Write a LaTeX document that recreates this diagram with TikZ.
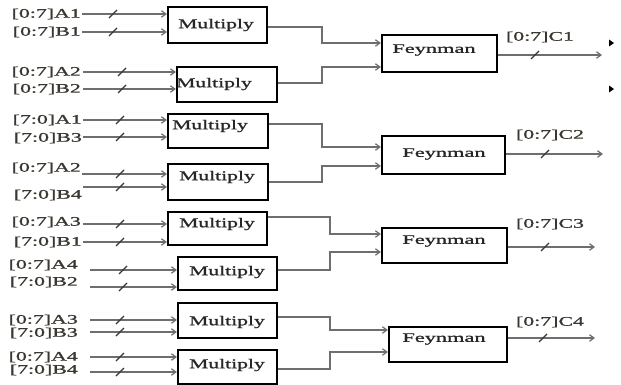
\documentclass[tikz,border=0pt]{standalone}
\usepackage{fontspec}
\setmainfont{Liberation Serif}
\newfontfamily\busfont[FakeStretch=1.68,FakeBold=1.2]{Liberation Serif}
\newfontfamily\blockfont[FakeStretch=1.6,FakeBold=1.2]{Liberation Serif}
\newfontfamily\feyfont[FakeStretch=1.72,FakeBold=1.2]{Liberation Serif}
\usetikzlibrary{arrows.meta}
\definecolor{wiregray}{HTML}{6E6E6E}
\definecolor{labelink}{HTML}{3A3630}

% short diagonal stroke marking a multi-bit bus
\newcommand\busslash[2]{\draw[slashline] (#1-4,#2+4) -- (#1+4,#2-4);}
% input wire: name, start x, y, target block, slash x
\newcommand\inwire[5]{%
  \coordinate (#1) at (#2,#3);
  \draw[wire] (#1) -- (#1 -| #4.west);
  \busslash{#5}{#3}}

\begin{document}
\begin{tikzpicture}[x=1pt,y=-1pt,
  mbox/.style={draw=black,line width=2.2pt,fill=white,rectangle,inner sep=0pt},
  wire/.style={draw=wiregray,line width=1.2pt,-{Straight Barb[length=4.5pt,width=6.5pt]}},
  slashline/.style={draw=labelink,line width=1.2pt},
  bus/.style={font=\busfont\fontsize{13}{15}\selectfont,text=labelink,inner sep=0pt,anchor=east},
  outbus/.style={font=\busfont\fontsize{13}{15}\selectfont,text=labelink,inner sep=0pt},
  blocktext/.style={font=\blockfont\fontsize{13.5}{15}\selectfont,text=black!85,inner sep=0pt},
  feytext/.style={font=\feyfont\fontsize{13}{15}\selectfont,text=black!85,inner sep=0pt},
]
\useasboundingbox[fill=white] (0,0) rectangle (621,385);

% ---------- multiplier blocks ----------
\node[mbox,minimum width=99pt,minimum height=36pt] (m1) at (217.5,25) {};
\node[mbox,minimum width=100pt,minimum height=35pt] (m2) at (227,84.5) {};
\node[mbox,minimum width=100pt,minimum height=34pt] (m3) at (218,131) {};
\node[mbox,minimum width=100pt,minimum height=36pt] (m4) at (218,182) {};
\node[mbox,minimum width=99pt,minimum height=33pt] (m5) at (217.5,228.5) {};
\node[mbox,minimum width=99pt,minimum height=33pt] (m6) at (227.5,273.5) {};
\node[mbox,minimum width=99pt,minimum height=35pt] (m7) at (227.5,320.5) {};
\node[mbox,minimum width=99pt,minimum height=34pt] (m8) at (227.5,367) {};

\node[blocktext] (t1) at (216,25) {Multiply};
\node[blocktext] (t2) at (214,84) {Multiply};
\node[blocktext] (t3) at (210,126) {Multiply};
\node[blocktext] (t4) at (217,177) {Multiply};
\node[blocktext] (t5) at (217,224) {Multiply};
\node[blocktext] (t6) at (227,272) {Multiply};
\node[blocktext] (t7) at (227,322) {Multiply};
\node[blocktext] (t8) at (227,365) {Multiply};

% ---------- Feynman blocks ----------
\node[mbox,minimum width=115pt,minimum height=37pt] (f1) at (439.5,53.5) {};
\node[mbox,minimum width=123pt,minimum height=38pt] (f2) at (443.5,155) {};
\node[mbox,minimum width=125pt,minimum height=35pt] (f3) at (444.5,245.5) {};
\node[mbox,minimum width=118pt,minimum height=35pt] (f4) at (448,344.5) {};

\node[feytext] (g1) at (434,50) {Feynman};
\node[feytext] (g2) at (444,154) {Feynman};
\node[feytext] (g3) at (444,241) {Feynman};
\node[feytext] (g4) at (444,339) {Feynman};

% ---------- input bus labels ----------
\node[bus] (la1) at (81,14) {[0:7]A1};
\node[bus] (lb1) at (81,32) {[0:7]B1};
\node[bus] (la2) at (81,72) {[0:7]A2};
\node[bus] (lb2) at (81,89) {[0:7]B2};

\node[bus] (lc1) at (82,120) {[7:0]A1};
\node[bus] (ld3) at (82,138) {[7:0]B3};
\node[bus] (lc2) at (81,168) {[0:7]A2};
\node[bus] (ld4) at (82,195) {[7:0]B4};

\node[bus] (le3) at (81,222) {[0:7]A3};
\node[bus] (lf1) at (82,242) {[7:0]B1};
\node[bus] (le4) at (78,265) {[0:7]A4};
\node[bus] (lf2) at (78,282) {[7:0]B2};

\node[bus] (lg3) at (78,320) {[0:7]A3};
\node[bus] (lh3) at (78,333) {[7:0]B3};
\node[bus] (lg4) at (78,357) {[0:7]A4};
\node[bus] (lh4) at (78,370) {[7:0]B4};

% ---------- input wires ----------
\inwire{s1}{82}{14}{m1}{113}
\inwire{s2}{82}{32}{m1}{113}
\inwire{s3}{83}{72}{m2}{122}
\inwire{s4}{83}{89}{m2}{122}

\inwire{s5}{83}{120}{m3}{120}
\inwire{s6}{83}{137}{m3}{120}
\inwire{s7}{82}{174}{m4}{120}
\inwire{s8}{83}{187}{m4}{120}

\inwire{s9}{83}{224}{m5}{120}
\inwire{s10}{83}{242}{m5}{120}
\inwire{s11}{90}{270}{m6}{123}
\inwire{s12}{90}{287}{m6}{123}

\inwire{s13}{90}{320}{m7}{120}
\inwire{s14}{90}{332}{m7}{120}
\inwire{s15}{90}{357}{m8}{120}
\inwire{s16}{90}{372}{m8}{120}

% ---------- products into the Feynman blocks ----------
\coordinate (j1a) at (322,27);  \coordinate (j1b) at (322,43);
\coordinate (j2a) at (322,83);  \coordinate (j2b) at (322,67);
\draw[wire] (m1.east |- j1a) -- (j1a) -- (j1b) -- (j1b -| f1.west);
\draw[wire] (m2.east |- j2a) -- (j2a) -- (j2b) -- (j2b -| f1.west);

\coordinate (j3a) at (322,124); \coordinate (j3b) at (322,147);
\coordinate (j4a) at (322,182); \coordinate (j4b) at (322,166);
\draw[wire] (m3.east |- j3a) -- (j3a) -- (j3b) -- (j3b -| f2.west);
\draw[wire] (m4.east |- j4a) -- (j4a) -- (j4b) -- (j4b -| f2.west);

\coordinate (j5a) at (330,217); \coordinate (j5b) at (330,234);
\coordinate (j6a) at (330,270); \coordinate (j6b) at (330,252);
\draw[wire] (m5.east |- j5a) -- (j5a) -- (j5b) -- (j5b -| f3.west);
\draw[wire] (m6.east |- j6a) -- (j6a) -- (j6b) -- (j6b -| f3.west);

\coordinate (j7a) at (330,317); \coordinate (j7b) at (330,330);
\coordinate (j8a) at (330,369); \coordinate (j8b) at (330,352);
\draw[wire] (m7.east |- j7a) -- (j7a) -- (j7b) -- (j7b -| f4.west);
\draw[wire] (m8.east |- j8a) -- (j8a) -- (j8b) -- (j8b -| f4.west);

% ---------- outputs ----------
\coordinate (o1) at (602,55);
\coordinate (o2) at (603,154);
\coordinate (o3) at (595,247);
\coordinate (o4) at (595,338);
\draw[wire] (f1.east |- o1) -- (o1);
\draw[wire] (f2.east |- o2) -- (o2);
\draw[wire] (f3.east |- o3) -- (o3);
\draw[wire] (f4.east |- o4) -- (o4);
\busslash{535}{55}
\busslash{545}{154}
\busslash{545}{247}
\busslash{543}{338}

\node[outbus] (c1) at (540,37) {[0:7]C1};
\node[outbus] (c2) at (550,135) {[0:7]C2};
\node[outbus] (c3) at (550,224) {[0:7]C3};
\node[outbus] (c4) at (550,322) {[0:7]C4};

% small pointer marks at the right edge
\fill[black] (609,39.5) -- (614,43) -- (609,46.5) -- cycle;
\fill[black] (609,85.5) -- (614,89) -- (609,92.5) -- cycle;
\end{tikzpicture}
\end{document}
